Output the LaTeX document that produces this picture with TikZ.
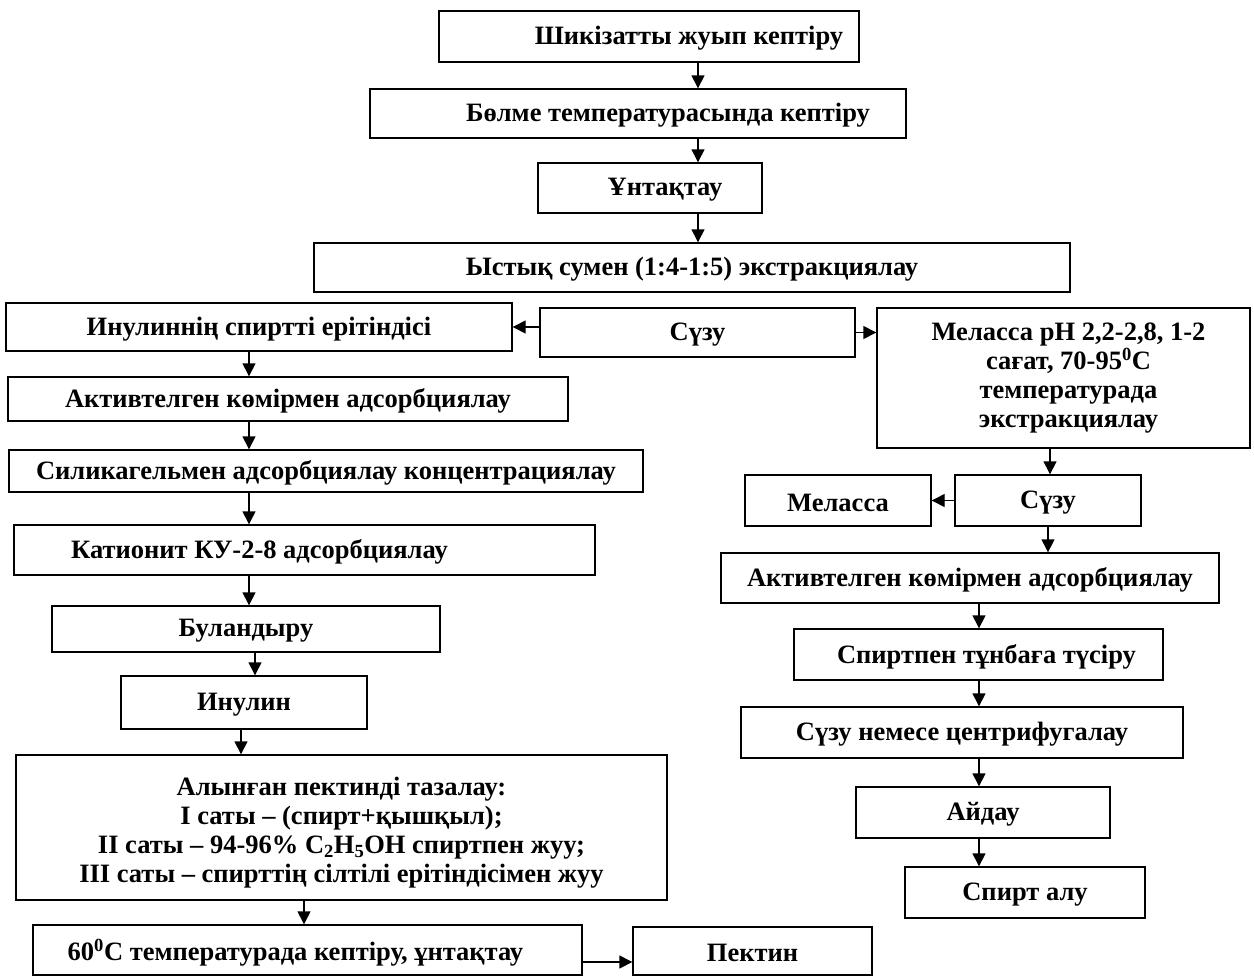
\documentclass[tikz,border=0pt]{standalone}
\usepackage{fontspec}
\setmainfont{Liberation Serif}
\usetikzlibrary{arrows.meta}
\newcommand\bx[7]{%
  \pgfmathsetmacro\bw{#4-#2}\pgfmathsetmacro\bh{#5-#3}%
  \pgfmathsetmacro\bcx{(#2+#4)/2}\pgfmathsetmacro\bcy{(#3+#5)/2}%
  \node[box, minimum width=\bw pt, minimum height=\bh pt] (#1) at (\bcx,\bcy) {};%
  \node[txt] (#1t) at ([shift={(#6)}]#1.center) {#7};}
\begin{document}
\begin{tikzpicture}[x=1pt,y=-1pt,
  box/.style={draw, line width=1.4pt, inner sep=0pt},
  txt/.style={inner sep=0pt, align=center, font=\bfseries\fontsize{26.5}{29}\selectfont},
  arr/.style={-{Triangle[length=13pt,width=13pt]}, line width=1.4pt}]
\useasboundingbox (0,0) rectangle (1254,978);
% boxes: name, x1, y1, x2, y2, text shift, text
\bx{b1}{439}{11}{859}{62}{40,2}{Шикізатты жуып кептіру}
\bx{b2}{370}{89}{906}{138}{30,2}{Бөлме температурасында кептіру}
\bx{b3}{538}{163}{762}{213}{15,2}{Ұнтақтау}
\bx{b4}{314}{243}{1070}{292}{0,2}{Ыстық сумен (1:4-1:5) экстракциялау}
\bx{b5}{6}{303}{512}{351}{0,2}{Инулиннің спиртті ерітіндісі}
\bx{b6}{540}{308}{855}{357}{0,2}{Сүзу}
\bx{b7}{877}{308}{1250}{448}{5,0}{Меласса pH 2,2-2,8, 1-2\\сағат, 70-95\textsuperscript{0}C\\температурада\\экстракциялау}
\bx{b8}{8}{377}{568}{421}{0,2}{Активтелген көмірмен адсорбциялау}
\bx{b9}{9}{450}{643}{492}{0,2}{Силикагельмен адсорбциялау концентрациялау}
\bx{b10}{14}{525}{595}{575}{-45,2}{Катионит КУ-2-8 адсорбциялау}
\bx{b11}{52}{606}{440}{652}{0,2}{Буландыру}
\bx{b12}{121}{676}{367}{729}{0,2}{Инулин}
\bx{b13}{16}{755}{667}{900}{0,5}{Алынған пектинді тазалау:\\I саты – (спирт+қышқыл);\\II саты – 94-96\% C\textsubscript{2}H\textsubscript{5}OH спиртпен жуу;\\III саты – спирттің сілтілі ерітіндісімен жуу}
\bx{b14}{33}{925}{582}{975}{-12,3}{60\textsuperscript{0}C температурада кептіру, ұнтақтау}
\bx{b15}{633}{927}{872}{975}{0,2}{Пектин}
\bx{b16}{745}{475}{931}{526}{0,2}{Меласса}
\bx{b17}{955}{475}{1141}{526}{0,2}{Сүзу}
\bx{b18}{721}{553}{1219}{603}{0,2}{Активтелген көмірмен адсорбциялау}
\bx{b19}{794}{629}{1163}{680}{8,2}{Спиртпен тұнбаға түсіру}
\bx{b20}{741}{707}{1183}{758}{0,2}{Сүзу немесе центрифугалау}
\bx{b21}{856}{787}{1110}{838}{0,2}{Айдау}
\bx{b22}{905}{867}{1145}{918}{0,2}{Спирт алу}
% x positions of vertical arrows
\path (698,0) coordinate (xa) (249,0) coordinate (xb) (255,0) coordinate (xc)
      (241,0) coordinate (xd) (304,0) coordinate (xe) (1050,0) coordinate (xf)
      (1048,0) coordinate (xg) (979,0) coordinate (xh) (0,962) coordinate (ya);
\draw[arr] (b1.south -| xa) -- (b2.north -| xa);
\draw[arr] (b2.south -| xa) -- (b3.north -| xa);
\draw[arr] (b3.south -| xa) -- (b4.north -| xa);
\draw[arr] (b5.south -| xb) -- (b8.north -| xb);
\draw[arr] (b8.south -| xb) -- (b9.north -| xb);
\draw[arr] (b9.south -| xb) -- (b10.north -| xb);
\draw[arr] (b10.south -| xb) -- (b11.north -| xb);
\draw[arr] (b11.south -| xc) -- (b12.north -| xc);
\draw[arr] (b12.south -| xd) -- (b13.north -| xd);
\draw[arr] (b13.south -| xe) -- (b14.north -| xe);
\draw[arr] (b7.south -| xf) -- (b17.north -| xf);
\draw[arr] (b17.south -| xg) -- (b18.north -| xg);
\draw[arr] (b18.south -| xh) -- (b19.north -| xh);
\draw[arr] (b19.south -| xh) -- (b20.north -| xh);
\draw[arr] (b20.south -| xh) -- (b21.north -| xh);
\draw[arr] (b21.south -| xh) -- (b22.north -| xh);
% horizontal arrows
\draw[arr] (b6.west |- b5.east) -- (b5.east);
\draw[arr] (b6.east) -- (b6.east -| b7.west);
\draw[arr] (b17.west) -- (b16.east);
\draw[arr] (b14.east |- ya) -- (b15.west |- ya);
\end{tikzpicture}
\end{document}
